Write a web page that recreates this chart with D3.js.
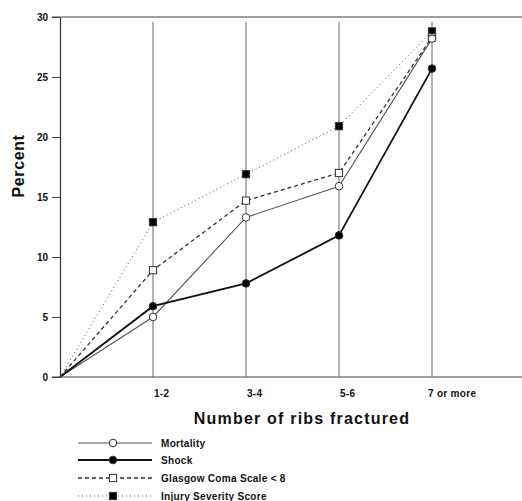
<!DOCTYPE html>
<html>
<head>
<meta charset="utf-8">
<script src="https://cdn.jsdelivr.net/npm/d3@7"></script>
<style>
  body { margin: 0; background: #fff; }
  text { font-family: "Liberation Sans", Arial, sans-serif; fill: #111; }
</style>
</head>
<body>
<svg></svg>
<script>
const categories = ["1-2", "3-4", "5-6", "7 or more"];
const yTicks = [0, 5, 10, 15, 20, 25, 30];
const mortality = [5.0, 13.3, 15.9, 28.2];
const shock = [5.9, 7.8, 11.8, 25.7];
const gcs = [8.9, 14.7, 17.0, 28.3];
const iss = [12.9, 16.9, 20.9, 28.8];

const width = 522, height = 501;
const svg = d3.select('svg')
    .attr('width', width)
    .attr('height', height);

const xScale = d3.scalePoint()
    .domain(["origin", ...categories])
    .range([60, 432]);

const yScale = d3.scaleLinear()
    .domain([0, 30])
    .range([377, 17]);

// top and bottom frame lines
svg.append('line')
    .attr('x1', 52).attr('x2', width)
    .attr('y1', yScale(30)).attr('y2', yScale(30))
    .attr('stroke', '#444').attr('stroke-width', 1.2);
svg.append('line')
    .attr('x1', 52).attr('x2', width)
    .attr('y1', yScale(0)).attr('y2', yScale(0))
    .attr('stroke', '#444').attr('stroke-width', 1.2);

// vertical category lines
svg.selectAll('.vline').data(categories)
    .enter().append('line')
        .attr('class', 'vline')
        .attr('x1', d => xScale(d)).attr('x2', d => xScale(d))
        .attr('y1', yScale(29.6)).attr('y2', yScale(0))
        .attr('stroke', '#666').attr('stroke-width', 1);

// y axis
const yAxis = d3.axisLeft(yScale)
    .tickValues(yTicks)
    .tickSize(8)
    .tickSizeOuter(0)
    .tickPadding(4);
const gy = svg.append('g')
    .attr('transform', `translate(${xScale("origin")},0)`)
    .call(yAxis);
gy.select('.domain').attr('stroke', '#333').attr('stroke-width', 1.2);
gy.selectAll('.tick line').attr('stroke', '#444');
gy.selectAll('.tick text')
    .attr('font-size', 10)
    .attr('font-weight', 'bold')
    .style('font-family', '"Liberation Sans", Arial, sans-serif')
    .attr('fill', '#222');

// x tick labels
svg.selectAll('.xlab').data(categories)
    .enter().append('text')
        .attr('class', 'xlab')
        .attr('x', d => xScale(d) + (d === "7 or more" ? -4 : 1))
        .attr('y', 397)
        .attr('font-size', 10)
        .attr('font-weight', 'bold')
        .attr('letter-spacing', 0.3)
        .text(d => d);

// axis titles
svg.append('text')
    .attr('x', 302).attr('y', 424)
    .attr('text-anchor', 'middle')
    .attr('font-size', 16)
    .attr('font-weight', 'bold')
    .attr('letter-spacing', 1.2)
    .text('Number of ribs fractured');
svg.append('text')
    .attr('transform', 'translate(24,166) rotate(-90)')
    .attr('text-anchor', 'middle')
    .attr('font-size', 16)
    .attr('font-weight', 'bold')
    .attr('letter-spacing', 0.6)
    .text('Percent');

const series = [
    { name: 'Mortality', values: mortality, stroke: '#555', width: 1.1, dash: null, marker: 'circle', fill: '#fff' },
    { name: 'Shock', values: shock, stroke: '#111', width: 1.8, dash: null, marker: 'circle', fill: '#000' },
    { name: 'Glasgow Coma Scale < 8', values: gcs, stroke: '#333', width: 1.3, dash: '4,3', marker: 'square', fill: '#fff' },
    { name: 'Injury Severity Score', values: iss, stroke: '#555', width: 1, dash: '1,3', marker: 'square', fill: '#000' }
];

const line = d3.line()
    .x(d => xScale(d.cat))
    .y(d => yScale(d.v));

const drawMarker = (g, s, x, y) => {
    if (s.marker === 'circle') {
        g.append('circle')
            .attr('cx', x).attr('cy', y).attr('r', 3.8)
            .attr('fill', s.fill).attr('stroke', '#333').attr('stroke-width', 1);
    } else {
        g.append('rect')
            .attr('x', x - 3.6).attr('y', y - 3.6)
            .attr('width', 7.2).attr('height', 7.2)
            .attr('fill', s.fill).attr('stroke', '#333').attr('stroke-width', 1);
    }
};

series.forEach(s => {
    const pts = [{ cat: 'origin', v: 0 }, ...categories.map((c, i) => ({ cat: c, v: s.values[i] }))];
    svg.append('path')
        .datum(pts)
        .attr('d', line)
        .attr('fill', 'none')
        .attr('stroke', s.stroke)
        .attr('stroke-width', s.width)
        .attr('stroke-dasharray', s.dash);
});
series.slice().reverse().forEach(s => {
    const g = svg.append('g');
    categories.forEach((c, i) => drawMarker(g, s, xScale(c), yScale(s.values[i])));
});

// legend
const legendY = [443, 460, 478, 496];
series.forEach((s, i) => {
    const g = svg.append('g').attr('transform', `translate(0,${legendY[i]})`);
    g.append('line')
        .attr('x1', 78).attr('x2', 152)
        .attr('stroke', s.stroke)
        .attr('stroke-width', s.width)
        .attr('stroke-dasharray', s.dash);
    drawMarker(g, s, 113, 0);
    g.append('text')
        .attr('x', 161).attr('y', 3.5)
        .attr('font-size', 10)
        .attr('font-weight', 'bold')
        .attr('letter-spacing', 0.3)
        .text(s.name);
});
</script>
</body>
</html>
